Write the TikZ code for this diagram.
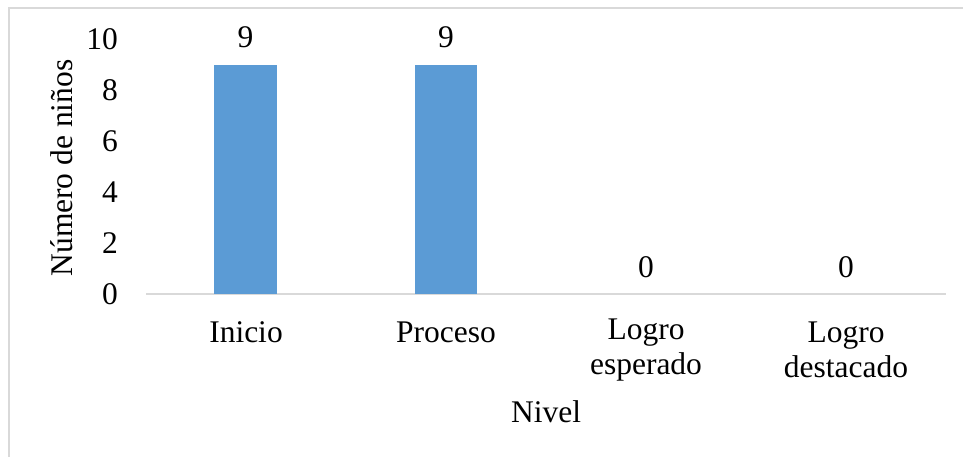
\documentclass[tikz,border=0pt]{standalone}
\usepackage{fontspec}
\setmainfont{Liberation Serif}
\definecolor{barblue}{HTML}{5B9BD5}
\definecolor{gridgray}{HTML}{D9D9D9}
\begin{document}
\begin{tikzpicture}[x=1pt,y=-1pt,
  lbl/.style={font=\fontsize{31.5}{36}\selectfont, inner sep=0pt},
  bar/.style={fill=barblue, draw=none}]
\useasboundingbox (0,0) rectangle (963,457);
\fill[white] (0,0) rectangle (963,457);
\draw[gridgray, line width=2pt] (8.5,470) -- (8.5,8.5) -- (975,8.5);
% axis
\coordinate (axL) at (146,294);
\coordinate (axR) at (946,294);
\draw[gridgray, line width=2pt] (axL) -- (axR);
% bars
\fill[bar] (214,65) rectangle (277,294);
\fill[bar] (415,65) rectangle (477,294);
% data labels
\node[lbl] (v1) at (245.5,37) {9};
\node[lbl] (v2) at (446,37) {9};
\node[lbl] (v3) at (646,267) {0};
\node[lbl] (v4) at (846,267) {0};
% y ticks
\foreach \v/\y in {0/294,2/243.1,4/192.2,6/141.4,8/90.5,10/39.6}
  \node[lbl, anchor=east] (t\v) at (118,\y) {\v};
% y title
\node[lbl, rotate=90] (ytitle) at (62,168) {Número de niños};
% category labels
\node[lbl] (c1) at (246,332) {Inicio};
\node[lbl] (c2) at (446,332) {Proceso};
\node[lbl, align=center] (c3) at (646,350) {Logro\\[-1pt]esperado};
\node[lbl, align=center] (c4) at (846,350) {Logro\\[-1pt]destacado};
\node[lbl] (xtitle) at (546,412) {Nivel};
\end{tikzpicture}
\end{document}
